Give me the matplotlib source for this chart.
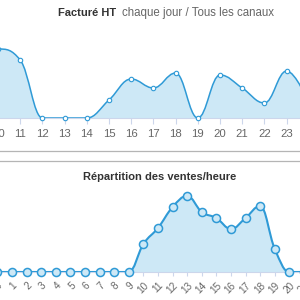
import matplotlib
matplotlib.use("Agg")
import matplotlib.pyplot as plt
from matplotlib.path import Path
from matplotlib.patches import PathPatch

# ---- data ----
top_days = [9, 10, 11, 12, 13, 14, 15, 16, 17, 18, 19, 20, 21, 22, 23, 24]
top_values = [45, 69, 58, 0, 0, 0, 18, 39, 30, 45, 0, 43, 30, 15, 47, 15]
top_labels = [str(d) for d in top_days]

hours = list(range(24))
hour_values = [0, 0, 0, 0, 0, 0, 0, 0, 0, 0, 28, 44, 65, 76, 60, 54, 43, 54, 66, 23, 0, 0, 0, 0]
hour_labels = [str(h) for h in hours]

LINE = "#2f9ad6"
FILL = "#cde8f6"
GRID = "#ccd6eb"
LABEL = "#666666"
TITLE = "#333333"
FONT = "Liberation Sans"


def spline_path(xs, ys, smoothing=1.5):
    """Highcharts-style spline control points, returns vertices/codes."""
    n = len(xs)
    lc = [None] * n
    rc = [None] * n
    for i in range(n):
        if i == 0 or i == n - 1:
            continue
        px, py = xs[i], ys[i]
        lx, ly = xs[i - 1], ys[i - 1]
        nx, ny = xs[i + 1], ys[i + 1]
        d = smoothing + 1
        lcx = (smoothing * px + lx) / d
        lcy = (smoothing * py + ly) / d
        rcx = (smoothing * px + nx) / d
        rcy = (smoothing * py + ny) / d
        corr = 0
        if rcx != lcx:
            corr = (rcy - lcy) * (rcx - px) / (rcx - lcx) + py - rcy
        lcy += corr
        rcy += corr
        if lcy > ly and lcy > py:
            lcy = max(ly, py); rcy = 2 * py - lcy
        elif lcy < ly and lcy < py:
            lcy = min(ly, py); rcy = 2 * py - lcy
        if rcy > ny and rcy > py:
            rcy = max(ny, py); lcy = 2 * py - rcy
        elif rcy < ny and rcy < py:
            rcy = min(ny, py); lcy = 2 * py - rcy
        lc[i] = (lcx, lcy)
        rc[i] = (rcx, rcy)
    verts = [(xs[0], ys[0])]
    codes = [Path.MOVETO]
    for i in range(1, n):
        a = rc[i - 1] if rc[i - 1] is not None else (xs[i - 1], ys[i - 1])
        b = lc[i] if lc[i] is not None else (xs[i], ys[i])
        verts += [a, b, (xs[i], ys[i])]
        codes += [Path.CURVE4] * 3
    return verts, codes


def draw_series(ax, xs, ys, lw, ms, mew, mfc):
    verts, codes = spline_path(xs, ys)
    fv = verts + [(xs[-1], 0), (xs[0], 0), (xs[0], ys[0])]
    fc = codes + [Path.LINETO, Path.LINETO, Path.CLOSEPOLY]
    ax.add_patch(PathPatch(Path(fv, fc), facecolor=FILL, edgecolor="none", zorder=1))
    ax.add_patch(PathPatch(Path(verts, codes), facecolor="none", edgecolor=LINE,
                           lw=lw, zorder=3, capstyle="round", joinstyle="round"))
    ax.plot(xs, ys, "o", ms=ms, mfc=mfc, mec=LINE, mew=mew, zorder=4, clip_on=False)


W = H = 300.0
fig = plt.figure(figsize=(3, 3), dpi=100)


def fy(px):
    return 1 - px / H


# axes extend a little beyond the figure edges (chart is cropped)
EXT = 20.0
AX_L = -EXT / W
AX_W = (W + 2 * EXT) / W

# ---- top chart ----
ax1 = fig.add_axes([AX_L, fy(118), AX_W, fy(30) - fy(118)])
draw_series(ax1, top_days, top_values, lw=1.1, ms=3.2, mew=0.8, mfc="white")
ax1.set_xticks(top_days)
ax1.set_xticklabels(top_labels, fontsize=8.2, color=LABEL, family=FONT)
ax1.set_xlim(10 + (2 - EXT) / 22.2, 10 + (302 + EXT) / 22.2)
ax1.set_ylim(0, 88)
ax1.tick_params(axis="x", length=4, color=GRID, width=0.8, pad=4)
ax1.set_yticks([])
for s in ["top", "left", "right"]:
    ax1.spines[s].set_visible(False)
ax1.spines["bottom"].set_color(GRID)
ax1.spines["bottom"].set_linewidth(0.8)
ax1.patch.set_alpha(0)

# ---- bottom chart ----
ax2 = fig.add_axes([AX_L, fy(272), AX_W, fy(180) - fy(272)])
draw_series(ax2, hours, hour_values, lw=1.5, ms=5.8, mew=1.1, mfc=FILL)
ax2.set_xticks(hours)
ax2.set_xticklabels(hour_labels, fontsize=7.2, color=LABEL, family=FONT,
                    rotation=45, ha="right", rotation_mode="anchor")
ax2.set_xlim((2.6 - EXT) / 14.6, (302.6 + EXT) / 14.6)
ax2.set_ylim(0, 92)
ax2.tick_params(axis="x", length=3, color=GRID, width=0.8, pad=3)
ax2.set_yticks([])
for s in ["top", "left", "right"]:
    ax2.spines[s].set_visible(False)
ax2.spines["bottom"].set_color(GRID)
ax2.spines["bottom"].set_linewidth(0.8)
ax2.patch.set_alpha(0)

# ---- separator ----
for py in (150.5, 160.5):
    fig.add_artist(plt.Line2D([0, 1], [fy(py), fy(py)], color="#b5b5b5", lw=0.9))

# ---- titles ----
fig.text(58 / W, fy(13), "Facturé HT", fontsize=8.0, fontweight="bold",
         color=TITLE, family=FONT, ha="left", va="center")
fig.text(122.5 / W, fy(13), "chaque jour / Tous les canaux", fontsize=8.3,
         color=LABEL, family=FONT, ha="left", va="center")
fig.text(160 / W, fy(177), "Répartition des ventes/heure", fontsize=8.0,
         fontweight="bold", color=TITLE, family=FONT, ha="center", va="center")

fig.savefig("out.png", dpi=100)
